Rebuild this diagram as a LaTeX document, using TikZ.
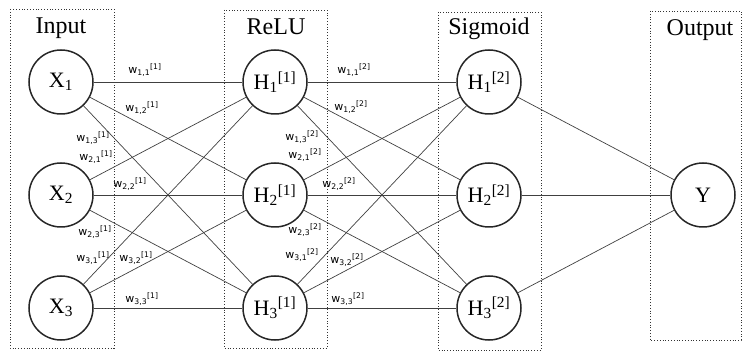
\documentclass[tikz,border=0pt]{standalone}
\usepackage{fontspec}
\setmainfont{Liberation Serif}
\newfontfamily\wfont{DejaVu Sans}
\usepackage{tikz}
\usetikzlibrary{positioning}

\tikzset{
	neuron/.style={circle, draw=black!85, line width=1.5pt, minimum size=64pt, inner sep=0pt, font=\fontsize{22}{26}\selectfont},
	layerbox/.style={draw=black!80, dotted, line width=0.8pt},
	layertitle/.style={anchor=base, font=\fontsize{24}{28}\selectfont},
	link/.style={draw=black!75, line width=0.7pt},
	wlabel/.style={inner sep=0pt, font=\wfont\fontsize{11}{13}\selectfont}
}
\newcommand{\wgt}[2]{w\textsubscript{#1}\textsuperscript{[#2]}}

\begin{document}
\begin{tikzpicture}[x=1pt, y=-1pt]
	\useasboundingbox (0,0) rectangle (744,352);
	% Layer boxes and titles:
	\draw[layerbox] (10,9) rectangle (114,348);
	\draw[layerbox] (224,10) rectangle (327,348);
	\draw[layerbox] (438,12) rectangle (541,350);
	\draw[layerbox] (650,11) rectangle (741,340);
	\node[layertitle] (tIn) at (61,34) {Input};
	\node[layertitle] (tRelu) at (276,35) {ReLU};
	\node[layertitle] (tSig) at (489,35) {Sigmoid};
	\node[layertitle] (tOut) at (700,36) {Output};
	% Neurons:
	\node[neuron] (X1) at (61,82) {X\textsubscript{1}};
	\node[neuron] (X2) at (61,195) {X\textsubscript{2}};
	\node[neuron] (X3) at (61,308) {X\textsubscript{3}};
	\node[neuron] (Ha1) at (275,82) {H\textsubscript{1}\textsuperscript{[1]}};
	\node[neuron] (Ha2) at (275,195) {H\textsubscript{2}\textsuperscript{[1]}};
	\node[neuron] (Ha3) at (275,308) {H\textsubscript{3}\textsuperscript{[1]}};
	\node[neuron] (Hb1) at (489,82) {H\textsubscript{1}\textsuperscript{[2]}};
	\node[neuron] (Hb2) at (489,195) {H\textsubscript{2}\textsuperscript{[2]}};
	\node[neuron] (Hb3) at (489,308) {H\textsubscript{3}\textsuperscript{[2]}};
	\node[neuron] (Y) at (703,195) {Y};
	% Input -> ReLU:
	\draw[link] (X1) -- (Ha1);
	\draw[link] (X1) -- (Ha2);
	\draw[link] (X1) -- (Ha3);
	\draw[link] (X2) -- (Ha1);
	\draw[link] (X2) -- (Ha2);
	\draw[link] (X2) -- (Ha3);
	\draw[link] (X3) -- (Ha1);
	\draw[link] (X3) -- (Ha2);
	\draw[link] (X3) -- (Ha3);
	% ReLU -> Sigmoid:
	\draw[link] (Ha1) -- (Hb1);
	\draw[link] (Ha1) -- (Hb2);
	\draw[link] (Ha1) -- (Hb3);
	\draw[link] (Ha2) -- (Hb1);
	\draw[link] (Ha2) -- (Hb2);
	\draw[link] (Ha2) -- (Hb3);
	\draw[link] (Ha3) -- (Hb1);
	\draw[link] (Ha3) -- (Hb2);
	\draw[link] (Ha3) -- (Hb3);
	% Sigmoid -> Output:
	\draw[link] (Hb1) -- (Y);
	\draw[link] (Hb2) -- (Y);
	\draw[link] (Hb3) -- (Y);
	% Weight labels, first layer:
	\node[wlabel] (wa11) at (145,70) {\wgt{1,1}{1}};
	\node[wlabel] (wa12) at (142,108) {\wgt{1,2}{1}};
	\node[wlabel] (wa13) at (93,138) {\wgt{1,3}{1}};
	\node[wlabel] (wa21) at (96,157) {\wgt{2,1}{1}};
	\node[wlabel] (wa22) at (130,184) {\wgt{2,2}{1}};
	\node[wlabel] (wa23) at (95,232) {\wgt{2,3}{1}};
	\node[wlabel] (wa31) at (93,258) {\wgt{3,1}{1}};
	\node[wlabel] (wa32) at (136,258) {\wgt{3,2}{1}};
	\node[wlabel] (wa33) at (142,299) {\wgt{3,3}{1}};
	% Weight labels, second layer:
	\node[wlabel] (wb11) at (354,70) {\wgt{1,1}{2}};
	\node[wlabel] (wb12) at (351,107) {\wgt{1,2}{2}};
	\node[wlabel] (wb13) at (302,137) {\wgt{1,3}{2}};
	\node[wlabel] (wb21) at (305,155) {\wgt{2,1}{2}};
	\node[wlabel] (wb22) at (339,184) {\wgt{2,2}{2}};
	\node[wlabel] (wb23) at (305,230) {\wgt{2,3}{2}};
	\node[wlabel] (wb31) at (302,255) {\wgt{3,1}{2}};
	\node[wlabel] (wb32) at (347,260) {\wgt{3,2}{2}};
	\node[wlabel] (wb33) at (348,299) {\wgt{3,3}{2}};
\end{tikzpicture}
\end{document}
